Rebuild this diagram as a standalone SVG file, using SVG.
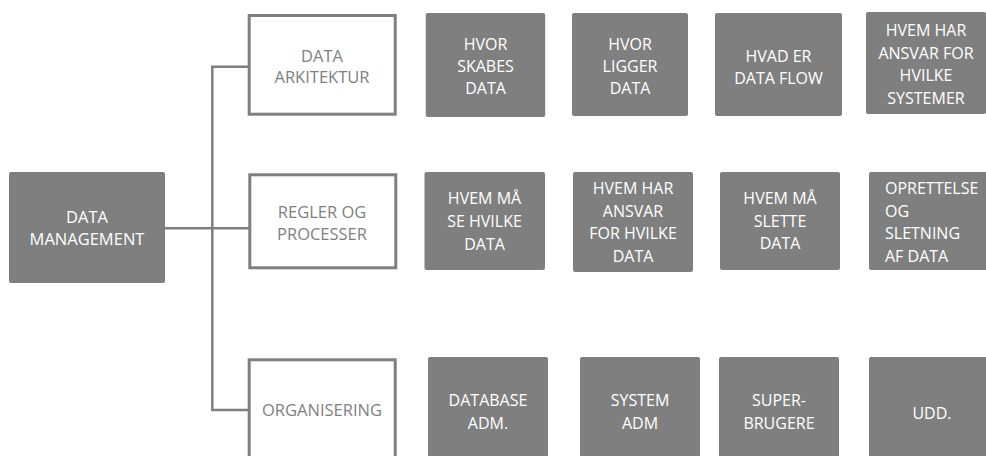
<svg xmlns="http://www.w3.org/2000/svg" width="986" height="456" viewBox="0 0 986 456">
<style>
.g{fill:#7f7f7f}
.w{fill:#fff;stroke:#7f7f7f;stroke-width:3}
.tg{font-family:"Open Sans","Liberation Sans",sans-serif;font-size:16px;fill:#fff;text-anchor:middle}
.tw{font-family:"Open Sans","Liberation Sans",sans-serif;font-size:16.5px;fill:#7f7f7f;text-anchor:middle}
.tm{font-family:"Open Sans","Liberation Sans",sans-serif;font-size:16.5px;fill:#fff;text-anchor:middle}
.c{fill:none;stroke:#7f7f7f;stroke-width:2.5}
</style>
<rect width="986" height="456" fill="#fff"/>
<g id="connectors">
<path class="c" d="M165 228.3H249"/>
<path class="c" d="M212.3 66.7V410"/>
<path class="c" d="M211 66.7H249"/>
<path class="c" d="M211 410H249"/>
</g>
<g id="data-management">
<rect class="g" x="9" y="172" width="156" height="111" rx="2"/>
<text class="tm" x="87" y="223">DATA</text>
<text class="tm" x="87" y="245">MANAGEMENT</text>
</g>
<g id="data-arkitektur">
<rect class="w" x="249.2" y="15.5" width="146" height="98.7"/>
<text class="tw" x="322" y="62">DATA</text>
<text class="tw" x="322" y="83">ARKITEKTUR</text>
</g>
<g id="regler-og-processer">
<rect class="w" x="249.8" y="174.8" width="146" height="93"/>
<text class="tw" x="322" y="218">REGLER OG</text>
<text class="tw" x="322" y="240">PROCESSER</text>
</g>
<g id="organisering">
<rect class="w" x="249.2" y="359.8" width="146" height="110"/>
<text class="tw" x="322" y="416">ORGANISERING</text>
</g>
<g id="hvor-skabes-data">
<rect class="g" x="425.7" y="13" width="119.5" height="104" rx="2"/>
<text class="tg" x="485.5" y="50">HVOR</text>
<text class="tg" x="485.5" y="72">SKABES</text>
<text class="tg" x="485.5" y="94">DATA</text>
</g>
<g id="hvor-ligger-data">
<rect class="g" x="572" y="13" width="116" height="103" rx="2"/>
<text class="tg" x="630" y="50">HVOR</text>
<text class="tg" x="630" y="72">LIGGER</text>
<text class="tg" x="630" y="94">DATA</text>
</g>
<g id="hvad-er-data-flow">
<rect class="g" x="715" y="13" width="127" height="103" rx="2"/>
<text class="tg" x="778.5" y="62">HVAD ER</text>
<text class="tg" x="778.5" y="84">DATA FLOW</text>
</g>
<g id="hvem-har-ansvar-systemer">
<rect class="g" x="866" y="12" width="120" height="102" rx="2"/>
<text class="tg" x="926" y="36">HVEM HAR</text>
<text class="tg" x="926" y="58.5">ANSVAR FOR</text>
<text class="tg" x="926" y="81">HVILKE</text>
<text class="tg" x="926" y="103.5">SYSTEMER</text>
</g>
<g id="hvem-maa-se">
<rect class="g" x="424.5" y="172" width="120.5" height="98" rx="2"/>
<text class="tg" x="484.5" y="204">HVEM MÅ</text>
<text class="tg" x="484.5" y="227">SE HVILKE</text>
<text class="tg" x="484.5" y="250">DATA</text>
</g>
<g id="hvem-har-ansvar-data">
<rect class="g" x="573" y="172" width="120" height="100" rx="2"/>
<text class="tg" x="633" y="194">HVEM HAR</text>
<text class="tg" x="633" y="216.5">ANSVAR</text>
<text class="tg" x="633" y="239">FOR HVILKE</text>
<text class="tg" x="633" y="261.5">DATA</text>
</g>
<g id="hvem-maa-slette">
<rect class="g" x="720" y="172" width="120" height="98" rx="2"/>
<text class="tg" x="780" y="204">HVEM MÅ</text>
<text class="tg" x="780" y="226.5">SLETTE</text>
<text class="tg" x="780" y="249">DATA</text>
</g>
<g id="oprettelse">
<rect class="g" x="869" y="172" width="122" height="98" rx="2"/>
<text class="tg" x="885" y="194" text-anchor="start" style="text-anchor:start">OPRETTELSE</text>
<text class="tg" x="885" y="216.5" style="text-anchor:start">OG</text>
<text class="tg" x="885" y="239" style="text-anchor:start">SLETNING</text>
<text class="tg" x="885" y="261.5" style="text-anchor:start">AF DATA</text>
</g>
<g id="database-adm">
<rect class="g" x="428" y="357" width="120" height="110" rx="2"/>
<text class="tg" x="488" y="406">DATABASE</text>
<text class="tg" x="488" y="429">ADM.</text>
</g>
<g id="system-adm">
<rect class="g" x="580" y="357" width="120" height="110" rx="2"/>
<text class="tg" x="640" y="406">SYSTEM</text>
<text class="tg" x="640" y="429">ADM</text>
</g>
<g id="superbrugere">
<rect class="g" x="719" y="357" width="120" height="110" rx="2"/>
<text class="tg" x="779" y="406">SUPER-</text>
<text class="tg" x="779" y="429">BRUGERE</text>
</g>
<g id="udd">
<rect class="g" x="869" y="357" width="126" height="110" rx="2"/>
<text class="tg" x="932" y="419">UDD.</text>
</g>
</svg>
